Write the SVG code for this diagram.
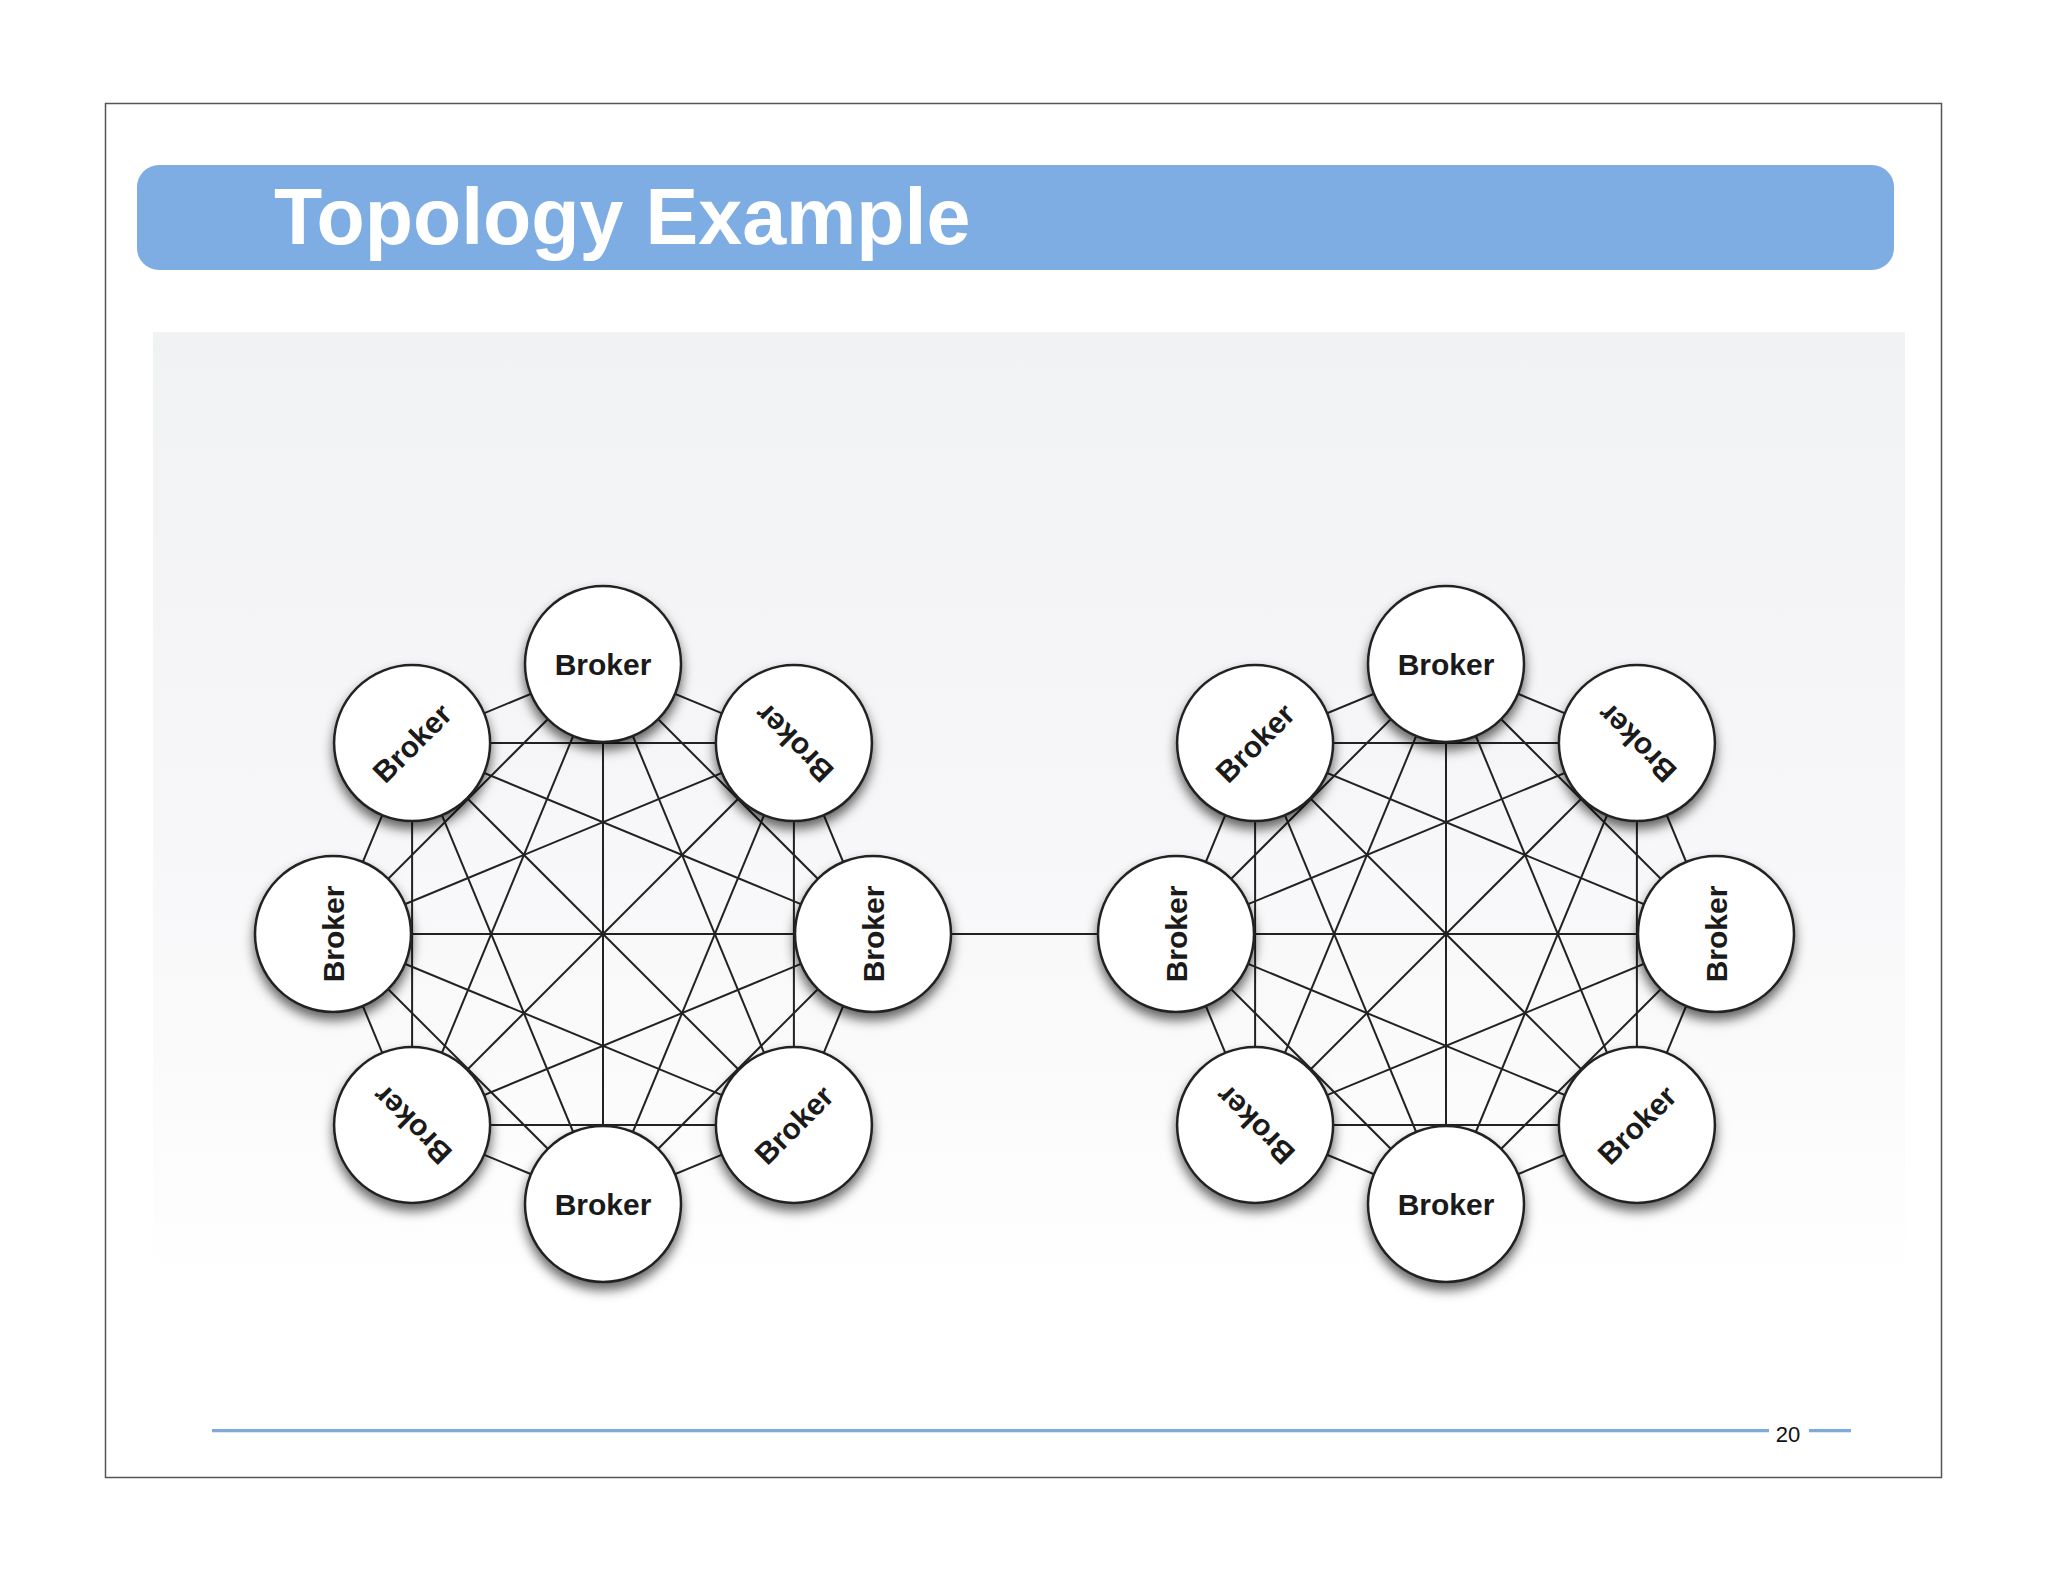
<svg xmlns="http://www.w3.org/2000/svg" width="2048" height="1582" viewBox="0 0 2048 1582">
<defs>
<linearGradient id="panelGrad" x1="0" y1="0" x2="0" y2="1">
<stop offset="0" stop-color="#F1F2F4"/>
<stop offset="0.45" stop-color="#F6F6F8"/>
<stop offset="0.8" stop-color="#FBFBFC"/>
<stop offset="1" stop-color="#FFFFFF"/>
</linearGradient>
<filter id="sh" x="-40%" y="-40%" width="180%" height="190%">
<feDropShadow dx="0" dy="7" stdDeviation="6" flood-color="#000" flood-opacity="0.6"/>
</filter>
</defs>
<style>
.frame{fill:#FFFFFF;stroke:#555555;stroke-width:1.5}
.bar{fill:#7DADE3}
.title{font-family:"Liberation Sans",Arial,Helvetica,sans-serif;font-weight:bold;font-size:79px;fill:#FFFFFF}
.edge{stroke:#222222;stroke-width:2;fill:none}
.node circle{fill:#FFFFFF;stroke:#222222;stroke-width:2.5;filter:url(#sh)}
.node text{font-family:"Liberation Sans",Arial,Helvetica,sans-serif;font-weight:bold;font-size:30px;fill:#1A1A1A;text-anchor:middle}
.foot{stroke:#7DA9DB;stroke-width:3.2}
.page{font-family:"Liberation Sans",Arial,Helvetica,sans-serif;font-size:22px;fill:#111111;text-anchor:middle}
</style>
<rect x="0" y="0" width="2048" height="1582" fill="#FFFFFF"/>
<rect class="frame" x="105.5" y="103.5" width="1836" height="1374"/>
<rect class="bar" x="137" y="165" width="1757" height="105" rx="22" ry="22"/>
<text class="title" x="274" y="244">Topology Example</text>
<rect x="153" y="332" width="1752" height="963" fill="url(#panelGrad)"/>

<g id="connectors">
<line class="edge" x1="603" y1="664" x2="793.9" y2="743.1"/>
<line class="edge" x1="603" y1="664" x2="873" y2="934"/>
<line class="edge" x1="603" y1="664" x2="793.9" y2="1124.9"/>
<line class="edge" x1="603" y1="664" x2="603" y2="1204"/>
<line class="edge" x1="603" y1="664" x2="412.1" y2="1124.9"/>
<line class="edge" x1="603" y1="664" x2="333" y2="934"/>
<line class="edge" x1="603" y1="664" x2="412.1" y2="743.1"/>
<line class="edge" x1="793.9" y1="743.1" x2="873" y2="934"/>
<line class="edge" x1="793.9" y1="743.1" x2="793.9" y2="1124.9"/>
<line class="edge" x1="793.9" y1="743.1" x2="603" y2="1204"/>
<line class="edge" x1="793.9" y1="743.1" x2="412.1" y2="1124.9"/>
<line class="edge" x1="793.9" y1="743.1" x2="333" y2="934"/>
<line class="edge" x1="793.9" y1="743.1" x2="412.1" y2="743.1"/>
<line class="edge" x1="873" y1="934" x2="793.9" y2="1124.9"/>
<line class="edge" x1="873" y1="934" x2="603" y2="1204"/>
<line class="edge" x1="873" y1="934" x2="412.1" y2="1124.9"/>
<line class="edge" x1="873" y1="934" x2="333" y2="934"/>
<line class="edge" x1="873" y1="934" x2="412.1" y2="743.1"/>
<line class="edge" x1="793.9" y1="1124.9" x2="603" y2="1204"/>
<line class="edge" x1="793.9" y1="1124.9" x2="412.1" y2="1124.9"/>
<line class="edge" x1="793.9" y1="1124.9" x2="333" y2="934"/>
<line class="edge" x1="793.9" y1="1124.9" x2="412.1" y2="743.1"/>
<line class="edge" x1="603" y1="1204" x2="412.1" y2="1124.9"/>
<line class="edge" x1="603" y1="1204" x2="333" y2="934"/>
<line class="edge" x1="603" y1="1204" x2="412.1" y2="743.1"/>
<line class="edge" x1="412.1" y1="1124.9" x2="333" y2="934"/>
<line class="edge" x1="412.1" y1="1124.9" x2="412.1" y2="743.1"/>
<line class="edge" x1="333" y1="934" x2="412.1" y2="743.1"/>

<line class="edge" x1="873" y1="934" x2="1176" y2="934"/>

<line class="edge" x1="1446" y1="664" x2="1636.9" y2="743.1"/>
<line class="edge" x1="1446" y1="664" x2="1716" y2="934"/>
<line class="edge" x1="1446" y1="664" x2="1636.9" y2="1124.9"/>
<line class="edge" x1="1446" y1="664" x2="1446" y2="1204"/>
<line class="edge" x1="1446" y1="664" x2="1255.1" y2="1124.9"/>
<line class="edge" x1="1446" y1="664" x2="1176" y2="934"/>
<line class="edge" x1="1446" y1="664" x2="1255.1" y2="743.1"/>
<line class="edge" x1="1636.9" y1="743.1" x2="1716" y2="934"/>
<line class="edge" x1="1636.9" y1="743.1" x2="1636.9" y2="1124.9"/>
<line class="edge" x1="1636.9" y1="743.1" x2="1446" y2="1204"/>
<line class="edge" x1="1636.9" y1="743.1" x2="1255.1" y2="1124.9"/>
<line class="edge" x1="1636.9" y1="743.1" x2="1176" y2="934"/>
<line class="edge" x1="1636.9" y1="743.1" x2="1255.1" y2="743.1"/>
<line class="edge" x1="1716" y1="934" x2="1636.9" y2="1124.9"/>
<line class="edge" x1="1716" y1="934" x2="1446" y2="1204"/>
<line class="edge" x1="1716" y1="934" x2="1255.1" y2="1124.9"/>
<line class="edge" x1="1716" y1="934" x2="1176" y2="934"/>
<line class="edge" x1="1716" y1="934" x2="1255.1" y2="743.1"/>
<line class="edge" x1="1636.9" y1="1124.9" x2="1446" y2="1204"/>
<line class="edge" x1="1636.9" y1="1124.9" x2="1255.1" y2="1124.9"/>
<line class="edge" x1="1636.9" y1="1124.9" x2="1176" y2="934"/>
<line class="edge" x1="1636.9" y1="1124.9" x2="1255.1" y2="743.1"/>
<line class="edge" x1="1446" y1="1204" x2="1255.1" y2="1124.9"/>
<line class="edge" x1="1446" y1="1204" x2="1176" y2="934"/>
<line class="edge" x1="1446" y1="1204" x2="1255.1" y2="743.1"/>
<line class="edge" x1="1255.1" y1="1124.9" x2="1176" y2="934"/>
<line class="edge" x1="1255.1" y1="1124.9" x2="1255.1" y2="743.1"/>
<line class="edge" x1="1176" y1="934" x2="1255.1" y2="743.1"/>
</g>

<g id="L0" class="node" transform="translate(603,664)"><circle r="78"/><text y="10.5">Broker</text></g>
<g id="L1" class="node" transform="translate(793.9,743.1)"><circle r="78"/><text transform="rotate(-135)" y="10.5">Broker</text></g>
<g id="L2" class="node" transform="translate(873,934)"><circle r="78"/><text transform="rotate(-90)" y="10.5">Broker</text></g>
<g id="L3" class="node" transform="translate(793.9,1124.9)"><circle r="78"/><text transform="rotate(-45)" y="10.5">Broker</text></g>
<g id="L4" class="node" transform="translate(603,1204)"><circle r="78"/><text y="10.5">Broker</text></g>
<g id="L5" class="node" transform="translate(412.1,1124.9)"><circle r="78"/><text transform="rotate(-135)" y="10.5">Broker</text></g>
<g id="L6" class="node" transform="translate(333,934)"><circle r="78"/><text transform="rotate(-90)" y="10.5">Broker</text></g>
<g id="L7" class="node" transform="translate(412.1,743.1)"><circle r="78"/><text transform="rotate(-45)" y="10.5">Broker</text></g>

<g id="R0" class="node" transform="translate(1446,664)"><circle r="78"/><text y="10.5">Broker</text></g>
<g id="R1" class="node" transform="translate(1636.9,743.1)"><circle r="78"/><text transform="rotate(-135)" y="10.5">Broker</text></g>
<g id="R2" class="node" transform="translate(1716,934)"><circle r="78"/><text transform="rotate(-90)" y="10.5">Broker</text></g>
<g id="R3" class="node" transform="translate(1636.9,1124.9)"><circle r="78"/><text transform="rotate(-45)" y="10.5">Broker</text></g>
<g id="R4" class="node" transform="translate(1446,1204)"><circle r="78"/><text y="10.5">Broker</text></g>
<g id="R5" class="node" transform="translate(1255.1,1124.9)"><circle r="78"/><text transform="rotate(-135)" y="10.5">Broker</text></g>
<g id="R6" class="node" transform="translate(1176,934)"><circle r="78"/><text transform="rotate(-90)" y="10.5">Broker</text></g>
<g id="R7" class="node" transform="translate(1255.1,743.1)"><circle r="78"/><text transform="rotate(-45)" y="10.5">Broker</text></g>

<line class="foot" x1="212" y1="1430.7" x2="1769" y2="1430.7"/>
<line class="foot" x1="1809" y1="1430.7" x2="1851" y2="1430.7"/>
<text class="page" x="1788" y="1442">20</text>
</svg>
